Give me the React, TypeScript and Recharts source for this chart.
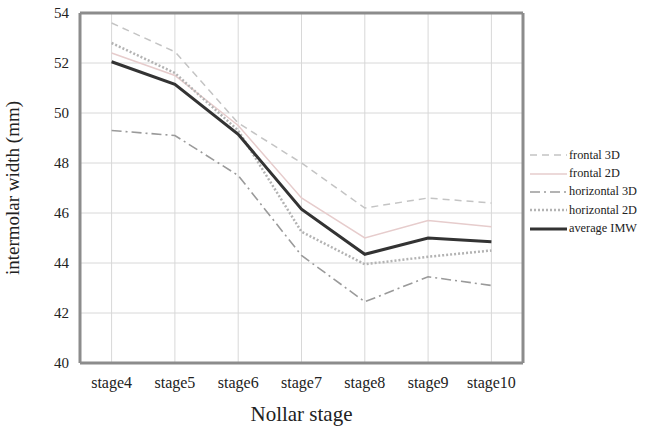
import {
  LineChart,
  Line,
  XAxis,
  YAxis,
  CartesianGrid,
} from "recharts";

const stages = ["stage4", "stage5", "stage6", "stage7", "stage8", "stage9", "stage10"];
const frontal3D = [53.6, 52.45, 49.6, 48.0, 46.2, 46.6, 46.4];
const frontal2D = [52.4, 51.5, 49.5, 46.6, 45.0, 45.7, 45.45];
const horizontal3D = [49.3, 49.1, 47.5, 44.3, 42.45, 43.45, 43.1];
const horizontal2D = [52.8, 51.6, 49.3, 45.25, 43.95, 44.25, 44.5];
const averageIMW = [52.05, 51.15, 49.15, 46.15, 44.35, 45.0, 44.85];
const yTicks = [40, 42, 44, 46, 48, 50, 52, 54];

const data = stages.map((s, i) => ({
  stage: s,
  f3: frontal3D[i],
  f2: frontal2D[i],
  h3: horizontal3D[i],
  h2: horizontal2D[i],
  avg: averageIMW[i],
}));

const series = [
  { key: "f3", name: "frontal 3D", color: "#c4c4c4", width: 1.5, dash: "7 5" },
  { key: "f2", name: "frontal 2D", color: "#e6cccc", width: 1.5, dash: undefined },
  { key: "h3", name: "horizontal 3D", color: "#9a9a9a", width: 1.6, dash: "10 4 2 4" },
  { key: "h2", name: "horizontal 2D", color: "#b3b3b3", width: 2.5, dash: "2 2" },
  { key: "avg", name: "average IMW", color: "#333333", width: 3, dash: undefined },
];

const font = "'Liberation Serif', 'Times New Roman', serif";
const frame = "#8c8c8c";

// legend sits outside the plot, to the right
function LegendBox() {
  return (
    <div
      style={{
        position: "absolute",
        left: 530,
        top: 146,
        fontFamily: font,
        fontSize: 12.3,
        color: "#222",
        whiteSpace: "nowrap",
      }}
    >
      {series.map((s) => (
        <div key={s.key} style={{ display: "flex", alignItems: "center", height: 18.4 }}>
          <svg width={38} height={10} style={{ marginRight: 1 }}>
            <line
              x1={0}
              y1={5}
              x2={37}
              y2={5}
              stroke={s.color}
              strokeWidth={s.width}
              strokeDasharray={s.dash}
            />
          </svg>
          <span>{s.name}</span>
        </div>
      ))}
    </div>
  );
}

export default function App() {
  return (
    <div
      style={{
        position: "absolute",
        left: 0,
        top: 0,
        width: 645,
        height: 429,
        background: "#fff",
        overflow: "visible",
      }}
    >
      <LineChart
        width={645}
        height={429}
        data={data}
        margin={{ top: 0, right: 0, bottom: 0, left: 0 }}
        style={{ overflow: "visible" }}
      >
        <CartesianGrid stroke="#d8d8d8" strokeWidth={1} />
        <XAxis
          dataKey="stage"
          height={66}
          padding={{ left: 31.6, right: 31.6 }}
          axisLine={{ stroke: frame, strokeWidth: 3 }}
          tickLine={false}
          tickMargin={8}
          tick={{ fontFamily: font, fontSize: 16, fill: "#222" }}
          label={{
            value: "Nollar stage",
            position: "insideBottom",
            offset: 8,
            style: { fontFamily: font, fontSize: 21, fill: "#222" },
          }}
        />
        <XAxis
          xAxisId="top"
          dataKey="stage"
          orientation="top"
          height={13}
          tick={false}
          tickLine={false}
          axisLine={{ stroke: frame, strokeWidth: 3 }}
        />
        <YAxis
          domain={[40, 54]}
          ticks={yTicks}
          width={80}
          axisLine={{ stroke: frame, strokeWidth: 3 }}
          tickLine={false}
          tickMargin={5}
          tick={{ fontFamily: font, fontSize: 15, fill: "#222" }}
          label={{
            value: "intermolar width (mm)",
            angle: -90,
            position: "insideLeft",
            offset: 12,
            style: { textAnchor: "middle", fontFamily: font, fontSize: 19, fill: "#222" },
          }}
        />
        <YAxis
          yAxisId="right"
          orientation="right"
          domain={[40, 54]}
          width={122}
          tick={false}
          tickLine={false}
          axisLine={{ stroke: frame, strokeWidth: 3 }}
        />
        {series.map((s) => (
          <Line
            key={s.key}
            type="linear"
            dataKey={s.key}
            name={s.name}
            stroke={s.color}
            strokeWidth={s.width}
            strokeDasharray={s.dash}
            dot={false}
            isAnimationActive={false}
          />
        ))}
      </LineChart>
      <LegendBox />
    </div>
  );
}
